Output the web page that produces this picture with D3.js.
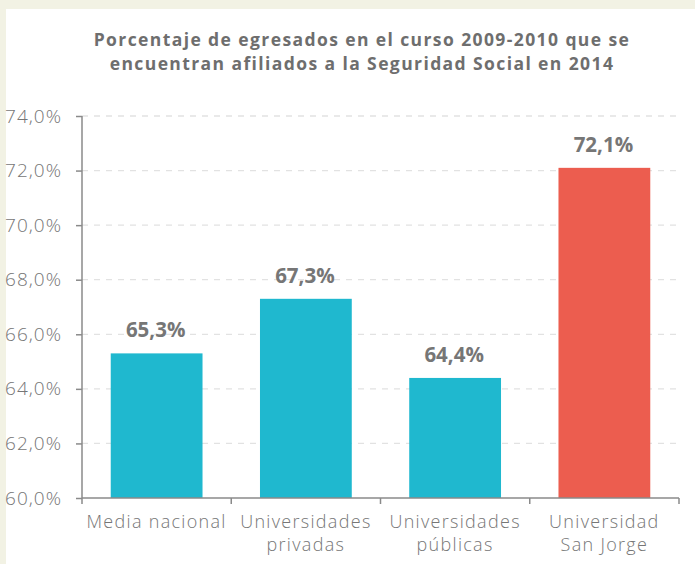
<!DOCTYPE html>
<html>
<head>
<meta charset="utf-8">
<script src="https://cdn.jsdelivr.net/npm/d3@7/dist/d3.min.js"></script>
<style>
  body { margin: 0; background: #f2f2e4; }
  svg { display: block; }
</style>
</head>
<body>
<svg id="chart" width="695" height="564"></svg>
<script>
const categories = [["Media nacional"], ["Universidades", "privadas"], ["Universidades", "públicas"], ["Universidad", "San Jorge"]];
const values = [65.3, 67.3, 64.4, 72.1];
const barColors = ["#1fb8cf", "#1fb8cf", "#1fb8cf", "#ec5d4f"];
const yTicks = [60, 62, 64, 66, 68, 70, 72, 74];
const titleLines = ["Porcentaje de egresados en el curso 2009-2010 que se", "encuentran afiliados a la Seguridad Social en 2014"];

const svg = d3.select("#chart");
const font = "'Open Sans', sans-serif";
const grey = "#767676";

// white panel
svg.append("rect").attr("x", 6).attr("y", 9).attr("width", 689).attr("height", 555).attr("fill", "#ffffff");

const plotLeft = 82, plotRight = 679, plotTop = 116, plotBottom = 498;
const idx = d3.range(values.length);

const x = d3.scaleBand().domain(idx).range([plotLeft, plotRight]).paddingInner(0.385).paddingOuter(0.1925);
const xAxisScale = d3.scaleBand().domain(idx).range([plotLeft, plotRight]);
const y = d3.scaleLinear().domain([60, 74]).range([plotBottom, plotTop]);

// title
svg.append("text")
  .attr("x", 362).attr("y", 46)
  .attr("text-anchor", "middle")
  .style("font-family", font).style("font-weight", "bold").style("font-size", "17.5px")
  .style("letter-spacing", "1.4px")
  .attr("fill", "#6e6e6e")
  .selectAll("tspan").data(titleLines).enter().append("tspan")
  .attr("x", 362).attr("dy", (d, i) => i === 0 ? 0 : 24)
  .text(d => d);

// gridlines
svg.append("g").selectAll("line").data(yTicks.slice(1)).enter().append("line")
  .attr("x1", plotLeft).attr("x2", 676)
  .attr("y1", d => y(d)).attr("y2", d => y(d))
  .attr("stroke", "#e2e2e2").attr("stroke-width", 1.3).attr("stroke-dasharray", "6,6");

// bars
svg.append("g").selectAll("rect").data(values).enter().append("rect")
  .attr("x", (d, i) => x(i))
  .attr("y", d => y(d))
  .attr("width", x.bandwidth())
  .attr("height", d => plotBottom - y(d))
  .attr("fill", (d, i) => barColors[i]);

// value labels
svg.append("g").selectAll("text").data(values).enter().append("text")
  .attr("x", (d, i) => x(i) + x.bandwidth() / 2 - 1)
  .attr("y", d => y(d) - 16)
  .attr("text-anchor", "middle")
  .style("font-family", font).style("font-weight", "bold").style("font-size", "20.5px")
  .attr("fill", grey)
  .text(d => d.toFixed(1).replace(".", ",") + "%");

// y axis
const yAxis = svg.append("g").attr("transform", "translate(" + plotLeft + ",0)")
  .call(d3.axisLeft(y).tickValues(yTicks).tickSize(6).tickPadding(14)
    .tickFormat(d => d.toFixed(1).replace(".", ",") + "%"));
yAxis.selectAll("path, line").attr("stroke", "#8a8a8a").attr("stroke-width", 1.5);
yAxis.select(".domain").attr("d", "M0," + plotTop + "V" + plotBottom);
yAxis.selectAll("text").style("font-family", font).style("font-size", "19px")
  .style("font-weight", 300).style("letter-spacing", "1px").attr("fill", grey);

// x axis
const xAxis = svg.append("g").attr("transform", "translate(0," + plotBottom + ")");
xAxis.append("line").attr("x1", plotLeft).attr("x2", plotRight).attr("stroke", "#8a8a8a").attr("stroke-width", 1.5);
xAxis.selectAll("line.tick").data(d3.range(values.length + 1)).enter().append("line")
  .attr("class", "tick")
  .attr("x1", d => d < values.length ? xAxisScale(d) : plotRight)
  .attr("x2", d => d < values.length ? xAxisScale(d) : plotRight)
  .attr("y1", 0).attr("y2", 6)
  .attr("stroke", "#8a8a8a").attr("stroke-width", 1.5);
xAxis.selectAll("text").data(categories).enter().append("text")
  .attr("text-anchor", "middle")
  .style("font-family", font).style("font-size", "18px")
  .style("font-weight", 300).style("letter-spacing", "1.3px")
  .attr("fill", grey)
  .each(function (lines, i) {
    d3.select(this).selectAll("tspan").data(lines).enter().append("tspan")
      .attr("x", xAxisScale(i) + xAxisScale.bandwidth() / 2)
      .attr("y", (d, j) => 30 + j * 23)
      .text(d => d);
  });
</script>
</body>
</html>
